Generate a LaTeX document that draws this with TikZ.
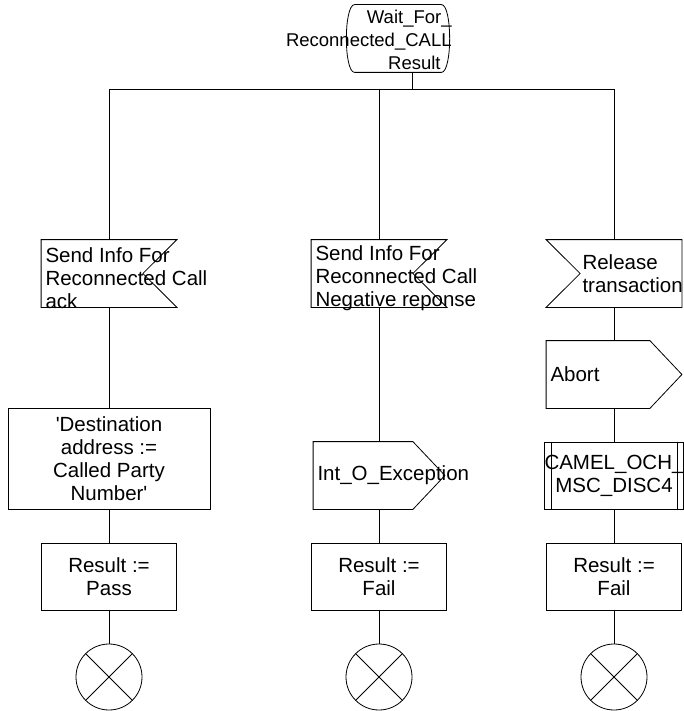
\documentclass[tikz,border=0pt]{standalone}
\usepackage{fontspec}
\setmainfont{Liberation Sans}
\begin{document}
\begin{tikzpicture}
[x=1pt, y=-1pt, line width=0.8pt,
 every node/.style={font=\fontsize{20.5}{23}\selectfont, inner sep=0pt},
 box/.style={draw, minimum width=135pt, minimum height=67pt, align=center},
 sig/.style={minimum width=135pt, minimum height=67pt},
 sigtext/.style={anchor=west, align=left},
 stopper/.style={circle, draw, minimum size=66pt}]
\useasboundingbox (0,0) rectangle (684,711);

% start state
\node[minimum width=106pt, minimum height=67pt] (st) at (398,38.5) {};
\node[anchor=east, align=right, font=\fontsize{18.5}{23}\selectfont] (stl) at (452,40) {Wait\_For\_\\Reconnected\_CALL\\Result\hspace*{11pt}};
\draw ([xshift=10pt]st.north west) -- ([xshift=-10pt]st.north east)
  .. controls ([xshift=1pt]st.north east) and ([xshift=1pt]st.south east) .. ([xshift=-10pt]st.south east)
  -- ([xshift=10pt]st.south west)
  .. controls ([xshift=-1pt]st.south west) and ([xshift=-1pt]st.north west) .. ([xshift=10pt]st.north west);

\coordinate (j) at (412,89);
\coordinate (t1) at (109,89);
\coordinate (t2) at (379,89);
\coordinate (t3) at (614,89);

% left branch
\node[sig] (s1) at (109,273.5) {};
\node[sigtext] (sl1) at ([xshift=4pt,yshift=-5pt]s1.west) {Send Info For\\Reconnected Call\\ack};
\node[box, minimum width=202pt, minimum height=101pt] (task) at (109,458.5) {\textquotesingle Destination\\address :=\\Called Party\\Number\textquotesingle};
\node[box] (r1) at (109,576.5) {Result :=\\Pass};
\node[stopper] (e1) at (109,677) {};

% middle branch
\node[sig] (s2) at (379,273.5) {};
\node[sigtext] (sl2) at ([xshift=4pt,yshift=-5pt]s2.west) {Send Info For\\Reconnected Call\\Negative reponse};
\node[sig, minimum width=131pt] (ex) at (379,475.5) {};
\node[sigtext] (el) at ([xshift=4pt]ex.west) {Int\_O\_Exception};
\node[box] (r2) at (379,576.5) {Result :=\\Fail};
\node[stopper] (e2) at (379,677) {};

% right branch
\node[sig] (s3) at (614,273.5) {};
\node[sigtext] (sl3) at ([xshift=36pt]s3.west) {Release\\transaction};
\node[sig] (ab) at (614,374.5) {};
\node[sigtext] (al) at ([xshift=4pt]ab.west) {Abort};
\node[box] (cm) at (614,475.5) {CAMEL\_OCH\_\\MSC\_DISC4};
\node[box] (r3) at (614,576.5) {Result :=\\Fail};
\node[stopper] (e3) at (614,677) {};

% input signals
\foreach \n in {s1,s2}
  \draw (\n.north west) -- (\n.north east) -- ([xshift=-34pt]\n.east) -- (\n.south east) -- (\n.south west) -- cycle;
\draw (s3.north west) -- (s3.north east) -- (s3.south east) -- (s3.south west) -- ([xshift=34pt]s3.west) -- cycle;

% output signals
\foreach \n in {ex,ab}
  \draw (\n.north west) -- ([xshift=-32pt]\n.north east) -- (\n.east) -- ([xshift=-32pt]\n.south east) -- (\n.south west) -- cycle;

% procedure call
\draw ([xshift=7pt]cm.north west) -- ([xshift=7pt]cm.south west)
      ([xshift=-7pt]cm.north east) -- ([xshift=-7pt]cm.south east);

% stops
\foreach \n in {e1,e2,e3}
  \draw (\n.north west) -- (\n.south east) (\n.north east) -- (\n.south west);

\draw ([xshift=14pt]st.south) -- (j);
\draw (t1) -- (t3);
\foreach \from/\to in {t1/s1,s1/task,task/r1,r1/e1,t2/s2,s2/ex,ex/r2,r2/e2,t3/s3,s3/ab,ab/cm,cm/r3,r3/e3}
  \draw (\from) -- (\to);

\end{tikzpicture}
\end{document}
